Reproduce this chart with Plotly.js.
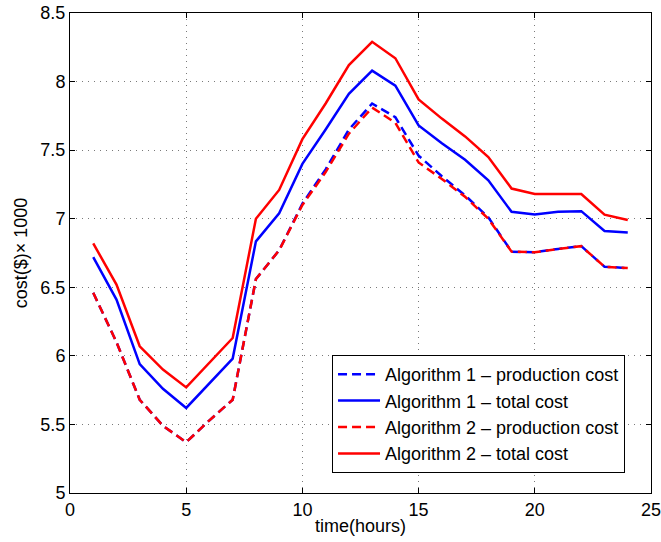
<!DOCTYPE html>
<html>
<head>
<meta charset="utf-8">
<script src="https://cdn.plot.ly/plotly-3.0.1.min.js"></script>
<style>html,body{margin:0;padding:0;background:#fff;}#chart{width:661px;height:542px;}</style>
</head>
<body>
<div id="chart"></div>
<script>
const hours = [1,2,3,4,5,6,7,8,9,10,11,12,13,14,15,16,17,18,19,20,21,22,23,24];
const alg1Production = [6.46,6.10,5.68,5.49,5.37,5.53,5.68,6.56,6.77,7.11,7.36,7.65,7.84,7.74,7.46,7.31,7.17,7.01,6.76,6.755,6.78,6.80,6.65,6.64];
const alg1Total = [6.72,6.41,5.94,5.76,5.62,5.80,5.98,6.835,7.04,7.40,7.65,7.91,8.08,7.97,7.68,7.55,7.43,7.28,7.05,7.03,7.05,7.055,6.91,6.90];
const alg2Production = [6.46,6.10,5.68,5.49,5.37,5.53,5.68,6.56,6.77,7.10,7.34,7.62,7.81,7.70,7.41,7.29,7.16,7.00,6.76,6.755,6.78,6.80,6.65,6.64];
const alg2Total = [6.82,6.52,6.07,5.90,5.77,5.95,6.13,7.00,7.21,7.58,7.84,8.12,8.29,8.17,7.87,7.73,7.60,7.45,7.22,7.18,7.18,7.18,7.03,6.99];
const seriesNames = ["Algorithm 1 \u2013 production cost","Algorithm 1 \u2013 total cost","Algorithm 2 \u2013 production cost","Algorithm 2 \u2013 total cost"];
const xTicks = [0,5,10,15,20,25];
const yTicks = [5,5.5,6,6.5,7,7.5,8,8.5];

const font = {family: "Liberation Sans, Arial, sans-serif", size: 18, color: "#000"};
const traces = [
  {x: hours, y: alg1Production, name: seriesNames[0], mode: "lines", line: {color: "#0000ff", width: 2.5, dash: "9px,5px"}},
  {x: hours, y: alg1Total, name: seriesNames[1], mode: "lines", line: {color: "#0000ff", width: 2.5}},
  {x: hours, y: alg2Production, name: seriesNames[2], mode: "lines", line: {color: "#ff0000", width: 2.5, dash: "9px,5px"}},
  {x: hours, y: alg2Total, name: seriesNames[3], mode: "lines", line: {color: "#ff0000", width: 2.5}}
];
const axisCommon = {
  showline: true, linecolor: "#000", linewidth: 1, mirror: "ticks",
  ticks: "inside", ticklen: 5, tickcolor: "#000", tickwidth: 1,
  showgrid: true, gridcolor: "#7a7a7a", gridwidth: 1, griddash: "1px,5px",
  zeroline: false, tickfont: font, ticklabeloverflow: "allow"
};
const layout = {
  width: 661, height: 542,
  margin: {l: 70, r: 10, t: 13, b: 49},
  paper_bgcolor: "#fff", plot_bgcolor: "#fff",
  font: font,
  showlegend: true,
  legend: {x: 0.451, y: 0.2875, xanchor: "left", yanchor: "top", bgcolor: "#fff", bordercolor: "#000", borderwidth: 1, font: font, tracegroupgap: 0, itemwidth: 42},
  xaxis: Object.assign({}, axisCommon, {range: [0, 25], tickvals: xTicks, ticktext: xTicks.map(String), title: {text: "time(hours)", font: font, standoff: 0}}),
  yaxis: Object.assign({}, axisCommon, {range: [5, 8.5], tickvals: yTicks, ticktext: yTicks.map(String), title: {text: "cost($)\u00d7 1000", font: font, standoff: 8}})
};
Plotly.newPlot("chart", traces, layout, {displayModeBar: false, staticPlot: true});
</script>
</body>
</html>
